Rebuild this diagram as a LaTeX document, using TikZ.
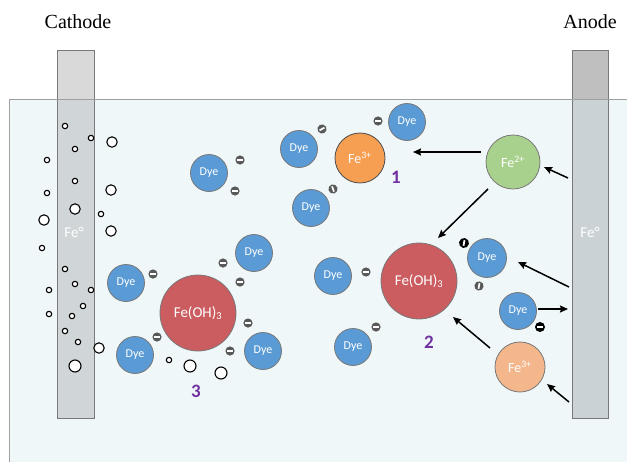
\documentclass[tikz,border=0pt]{standalone}
\usepackage{fontspec}
\setmainfont{Liberation Serif}
\newfontfamily\carl{Carlito}
\usetikzlibrary{arrows.meta}
\definecolor{water}{RGB}{240,247,249}
\definecolor{tankln}{RGB}{160,160,160}
\definecolor{elecup}{RGB}{217,217,217}
\definecolor{elecdn}{RGB}{208,213,215}
\definecolor{anup}{RGB}{191,191,191}
\definecolor{andn}{RGB}{203,210,213}
\definecolor{dyec}{RGB}{91,155,213}
\definecolor{ohc}{RGB}{203,92,95}
\definecolor{fe3c}{RGB}{246,158,82}
\definecolor{fe3l}{RGB}{244,183,140}
\definecolor{fe2c}{RGB}{169,209,142}
\definecolor{negc}{RGB}{89,89,89}
\definecolor{purp}{RGB}{112,48,160}
\definecolor{ringc}{RGB}{120,120,120}
\tikzset{
  ball/.style={circle, draw=ringc, line width=0.8pt, inner sep=0pt, text=white, font=\carl},
  dye/.style={ball, fill=dyec, minimum size=37pt, font=\carl\fontsize{12}{12}\selectfont},
  oh/.style={ball, fill=ohc, minimum size=76pt, font=\carl\fontsize{15}{15}\selectfont},
  ion/.style={ball, minimum size=50pt, font=\carl\fontsize{14}{14}\selectfont},
  num/.style={text=purp, font=\carl\bfseries\fontsize{19}{19}\selectfont},
  sbub/.style={draw=black, fill=white, line width=1.1pt},
  arr/.style={line width=1.5pt, -{Stealth[length=8pt,width=7pt,inset=1pt]}},
  elec/.style={draw=ringc, line width=0.8pt},
  lbl/.style={font=\fontsize{20}{20}\selectfont},
  neg/.pic={\fill[negc] (0,0) circle (4.6pt); \draw[white, line width=1.7pt] (-2.8pt,0) -- (2.8pt,0);},
  bneg/.pic={\fill[black] (0,0) circle (5pt); \draw[white, line width=1.8pt] (-2.8pt,0) -- (2.8pt,0);},
}
\begin{document}
\begin{tikzpicture}[x=1pt,y=-1pt]
\useasboundingbox (0,0) rectangle (627,461);
% tank
\fill[water] (9,99) rectangle (640,470);
\draw[tankln, line width=0.8pt] (9,470) -- (9,99) -- (640,99);
% electrodes
\fill[elecup] (57,50) rectangle (94,99);
\fill[elecdn] (57,99) rectangle (94,418);
\draw[elec] (57,50) rectangle (94,418);
\fill[anup] (572,50) rectangle (608,99);
\fill[andn] (572,99) rectangle (608,418);
\draw[elec] (572,50) rectangle (608,418);
\draw[tankln, line width=0.8pt] (9,99) -- (640,99);
\node[lbl] (cath) at (78,22) {Cathode};
\node[lbl] (anod) at (590,22) {Anode};
\node[text=white, font=\carl\fontsize{15}{15}\selectfont] (fe0c) at (74,232) {Fe°};
\node[text=white, font=\carl\fontsize{15}{15}\selectfont] (fe0a) at (590,232) {Fe°};
% bubbles small
\foreach \p [count=\i] in {(65,126),(91,138),(75,149),(47,160),(75,181),(47,193),(101,214),(42,248),(65,269),(75,284),(49,290),(91,290),(83,306),(49,314),(72,316),(65,331),(78,342),(169,360)}
  \draw[sbub] \p circle (2.7pt);
% bubbles large
\foreach \p in {(112,142),(111,190),(75,209),(44,220),(111,231),(99,348)}
  \draw[sbub] \p circle (5.2pt);
\foreach \p in {(75,366),(190,366),(221,373)}
  \draw[sbub] \p circle (6pt);
% dye molecules
\node[dye] (d1) at (209,173) {Dye};
\node[dye] (d2) at (299,149) {Dye};
\node[dye] (d3) at (407,122) {Dye};
\node[dye] (d4) at (311,208) {Dye};
\node[dye] (d5) at (126,283) {Dye};
\node[dye] (d6) at (254,253) {Dye};
\node[dye] (d7) at (135,355) {Dye};
\node[dye] (d8) at (263,351) {Dye};
\node[dye] (d9) at (333,276) {Dye};
\node[dye] (d10) at (353,347) {Dye};
\node[dye, minimum size=39pt] (d11) at (487,258) {Dye};
\node[dye] (d12) at (518,311) {Dye};
% iron species
\node[ion, fill=fe3c, draw=black!70] (fe3a) at (360,158) {Fe\textsuperscript{3+}};
\node[ion, fill=fe2c, minimum size=54pt] (fe2) at (513,162) {Fe\textsuperscript{2+}};
\node[ion, fill=fe3l] (fe3b) at (520,367) {Fe\textsuperscript{3+}};
\node[oh] (oh2) at (419,281) {Fe(OH)\textsubscript{3}};
\node[oh] (oh3) at (198,313) {Fe(OH)\textsubscript{3}};
% charges
\pic at (240,160) {neg};
\pic at (235,191) {neg};
\pic[rotate=30] at (322,129) {neg};
\pic at (378,121) {neg};
\pic[rotate=-70] at (333,189) {neg};
\pic at (153,274) {neg};
\pic at (223,263) {neg};
\pic at (240,282) {neg};
\pic at (248,323) {neg};
\pic at (230,351) {neg};
\pic at (157,337) {neg};
\pic at (366,272) {neg};
\pic at (376,327) {neg};
\pic[rotate=-100] at (479,286) {neg};
\pic[rotate=-100] at (464,243) {bneg};
\pic at (540,327) {bneg};
% numbers
\node[num] (n1) at (396,177) {1};
\node[num] (n2) at (429,342) {2};
\node[num] (n3) at (196,391) {3};
% arrows
\coordinate (a1s) at (481,152); \coordinate (a1e) at (413,152);
\coordinate (a2s) at (568,178); \coordinate (a2e) at (544,167);
\coordinate (a3s) at (488,189); \coordinate (a3e) at (438,238);
\coordinate (a4s) at (569,287); \coordinate (a4e) at (518,262);
\coordinate (a5s) at (538,309); \coordinate (a5e) at (568,309);
\coordinate (a6s) at (490,348); \coordinate (a6e) at (453,317);
\coordinate (a7s) at (569,402); \coordinate (a7e) at (547,384);
\draw[arr] (a1s) -- (a1e);
\draw[arr] (a2s) -- (a2e);
\draw[arr] (a3s) -- (a3e);
\draw[arr] (a4s) -- (a4e);
\draw[arr] (a5s) -- (a5e);
\draw[arr] (a6s) -- (a6e);
\draw[arr] (a7s) -- (a7e);
\end{tikzpicture}
\end{document}
